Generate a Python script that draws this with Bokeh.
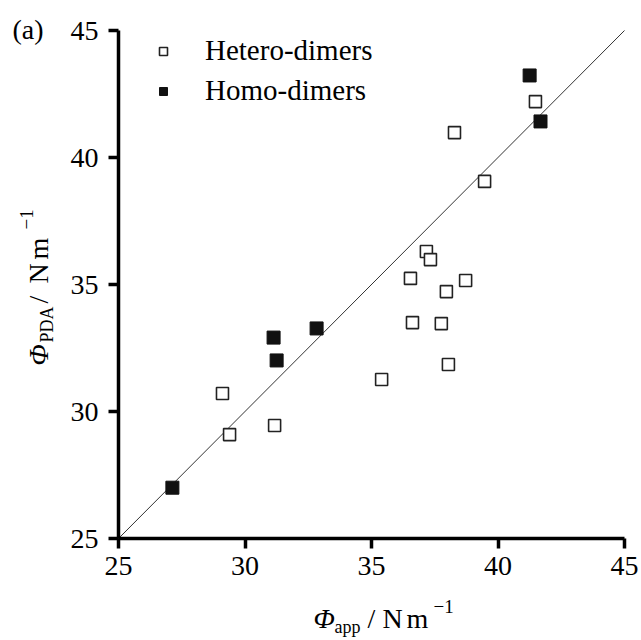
import math
from bokeh.plotting import figure
from bokeh.models import Label, FixedTicker, Range1d, Legend, LegendItem
from bokeh.embed import file_html
from bokeh.resources import INLINE

# Data
hetero_x = [41.48, 38.28, 39.47, 37.17, 37.33, 36.54, 38.72, 37.96, 36.62, 37.76, 38.04, 35.40, 29.11, 31.17, 29.39]
hetero_y = [42.20, 40.98, 39.06, 36.30, 35.98, 35.24, 35.16, 34.72, 33.50, 33.46, 31.85, 31.26, 30.71, 29.45, 29.09]
homo_x = [41.25, 41.68, 32.83, 31.13, 31.25, 27.13]
homo_y = [43.23, 41.42, 33.27, 32.91, 32.01, 27.00]
ticks = [25, 30, 35, 40, 45]
legend_labels = ["Hetero-dimers", "Homo-dimers"]

FONT = "Liberation Serif"
W, H = 641, 640
# desired plotting box inside the canvas (pixels)
left, right, top, bottom = 118, 624, 30, 538
lo, hi = ticks[0], ticks[-1]
sx = (right - left) / (hi - lo)
sy = (bottom - top) / (hi - lo)
x0 = lo - left / sx
x1 = x0 + W / sx
y1 = hi + top / sy
y0 = y1 - H / sy

p = figure(width=W, height=H, output_backend="svg", toolbar_location=None,
           x_range=Range1d(x0, x1), y_range=Range1d(y0, y1),
           min_border_left=0, min_border_right=0, min_border_top=0, min_border_bottom=0)
p.background_fill_color = "white"
p.border_fill_color = "white"
p.outline_line_color = None
p.grid.visible = False

p.xaxis.fixed_location = lo
p.yaxis.fixed_location = lo
for ax in (p.xaxis, p.yaxis):
    ax.ticker = FixedTicker(ticks=ticks)
    ax.bounds = (lo, hi)
    ax.axis_line_width = 3.5
    ax.axis_line_color = "black"
    ax.major_tick_line_width = 3.5
    ax.major_tick_line_color = "black"
    ax.major_tick_out = 10
    ax.major_tick_in = 0
    ax.minor_tick_line_color = None
    ax.major_label_text_font = FONT
    ax.major_label_text_font_size = "28px"
    ax.major_label_text_color = "black"
p.yaxis.major_label_standoff = 10
p.xaxis.major_label_standoff = 8

# identity line
p.line([lo, hi], [lo, hi], line_color="#333333", line_width=1)

r_het = p.scatter(hetero_x, hetero_y, marker="square", size=12, fill_color="white",
                  line_color="#222222", line_width=1.6)
r_hom = p.scatter(homo_x, homo_y, marker="square", size=13, fill_color="#111111",
                  line_color="#111111", line_width=1)

legend = Legend(items=[LegendItem(label=legend_labels[0], renderers=[r_het]),
                       LegendItem(label=legend_labels[1], renderers=[r_hom])],
                location=(153, 533))
legend.border_line_color = None
legend.background_fill_alpha = 0
legend.padding = 0
legend.margin = 0
legend.spacing = 7
legend.glyph_width = 20
legend.glyph_height = 30
legend.label_height = 30
legend.label_standoff = 32
legend.label_text_font = FONT
legend.label_text_font_size = "29px"
legend.label_text_color = "black"
legend.label_text_baseline = "middle"
p.add_layout(legend)

SHIFT = 9  # empirical offset of Bokeh's alphabetic anchor

def lab(text, cx, cy, size, italic=False, rotated=False):
    # cx, cy: canvas pixel position of the text baseline start
    if rotated:
        cx -= SHIFT
    else:
        cy -= SHIFT
    p.add_layout(Label(x=cx, y=H - cy, x_units="screen", y_units="screen", text=text,
                       text_font=FONT, text_font_size=size,
                       text_font_style="italic" if italic else "normal",
                       text_color="black", angle=math.pi / 2 if rotated else 0,
                       text_align="left", text_baseline="alphabetic"))

# panel tag
lab("(a)", 12, 38, "28px")

# x axis label
lab("\u03a6", 313, 627, "28px", italic=True)
lab("app", 334, 635, "18px")
lab("/", 367, 627, "28px")
lab("N", 382, 627, "28px")
lab("m", 406, 627, "28px")
lab("\u22121", 433, 615, "19px")

# y axis label (rotated)
lab("\u03a6", 47, 365, "28px", italic=True, rotated=True)
lab("PDA", 55, 342, "18px", rotated=True)
lab("/", 47, 303, "28px", rotated=True)
lab("N", 47, 283, "28px", rotated=True)
lab("m", 47, 259, "28px", rotated=True)
lab("\u22121", 35, 229, "19px", rotated=True)

open("out.html", "w").write(file_html(p, INLINE))
